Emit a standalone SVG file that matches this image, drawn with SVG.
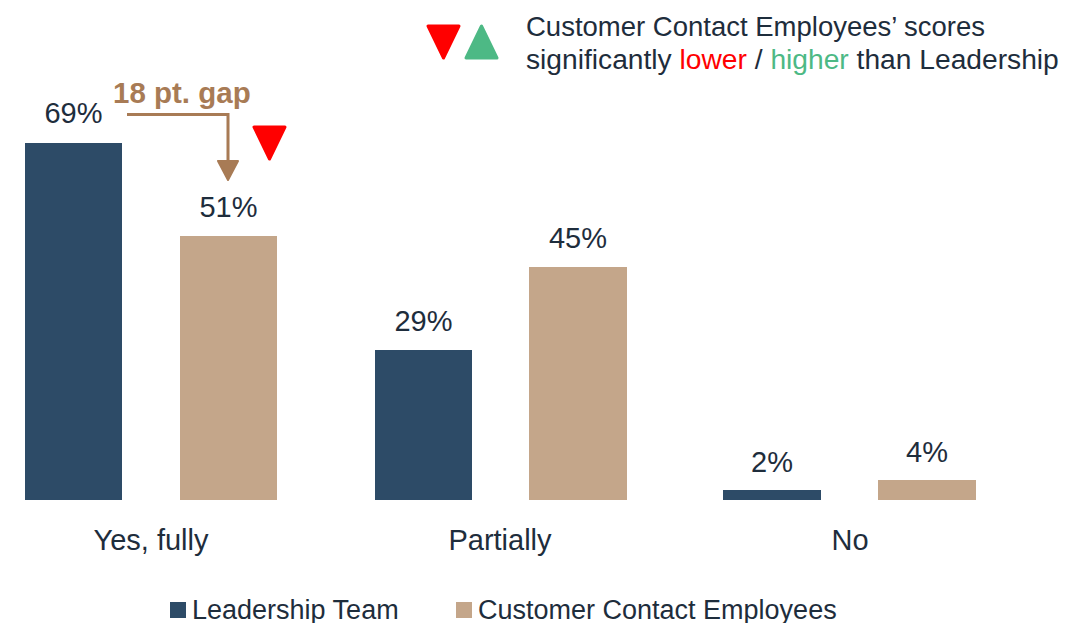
<svg xmlns="http://www.w3.org/2000/svg" width="1066" height="623" viewBox="0 0 1066 623">
  <style>
    text { font-family: "Liberation Sans", Arial, sans-serif; fill: #1E2D3C; }
    .val { font-size: 29px; text-anchor: middle; }
    .cat { font-size: 29px; text-anchor: middle; }
    .leg { font-size: 27px; }
    .hdr { font-size: 27.5px; }
    .lead { fill: #2D4B67; }
    .cce { fill: #C4A68A; }
    .down { fill: #FF0000; stroke: #FF0000; stroke-width: 3; stroke-linejoin: round; }
    .up { fill: #4DB985; stroke: #4DB985; stroke-width: 3; stroke-linejoin: round; }
    .gap { fill: none; stroke: #A87B55; stroke-width: 3; }
  </style>
  <rect width="1066" height="623" fill="#FFFFFF"/>

  <g id="header">
    <polygon class="down" points="428,26 459,26 443.5,58"/>
    <polygon class="up" points="466,58 497,58 481.5,26"/>
    <text class="hdr" x="526" y="36">Customer Contact Employees’ scores</text>
    <text class="hdr" x="526" y="69" style="font-size:28.2px">significantly <tspan style="fill:#FF0000">lower</tspan> / <tspan style="fill:#4DB985">higher</tspan> than Leadership</text>
  </g>

  <g id="bar-yes-leadership">
    <rect class="lead" x="25" y="143" width="97" height="357"/>
    <text class="val" x="73.5" y="123">69%</text>
  </g>
  <g id="bar-yes-cce">
    <rect class="cce" x="180" y="236" width="97" height="264"/>
    <text class="val" x="228.5" y="217">51%</text>
    <polygon class="down" points="254,127 285,127 269.5,159"/>
  </g>
  <g id="bar-partial-leadership">
    <rect class="lead" x="375" y="350" width="97" height="150"/>
    <text class="val" x="423.5" y="331">29%</text>
  </g>
  <g id="bar-partial-cce">
    <rect class="cce" x="529" y="267" width="98" height="233"/>
    <text class="val" x="578" y="248">45%</text>
  </g>
  <g id="bar-no-leadership">
    <rect class="lead" x="723" y="490" width="98" height="10"/>
    <text class="val" x="772" y="472">2%</text>
  </g>
  <g id="bar-no-cce">
    <rect class="cce" x="878" y="480" width="98" height="20"/>
    <text class="val" x="927" y="462">4%</text>
  </g>

  <g id="categories">
    <text class="cat" x="151" y="550">Yes, fully</text>
    <text class="cat" x="500" y="550">Partially</text>
    <text class="cat" x="850" y="550">No</text>
  </g>

  <g id="gap-annotation">
    <text x="113" y="103" style="font-size:29.5px;font-weight:bold;fill:#A87B55">18 pt. gap</text>
  </g>

  <g id="connectors">
    <polyline class="gap" points="127,114.5 228,114.5 228,162"/>
    <polygon points="218,161 238,161 228,180" fill="#A87B55" stroke="#A87B55" stroke-width="2" stroke-linejoin="round"/>
  </g>

  <g id="legend">
    <rect class="lead" x="170" y="602" width="16" height="16"/>
    <text class="leg" x="192" y="619">Leadership Team</text>
    <rect class="cce" x="456" y="602" width="16" height="16"/>
    <text class="leg" x="478" y="619">Customer Contact Employees</text>
  </g>
</svg>
